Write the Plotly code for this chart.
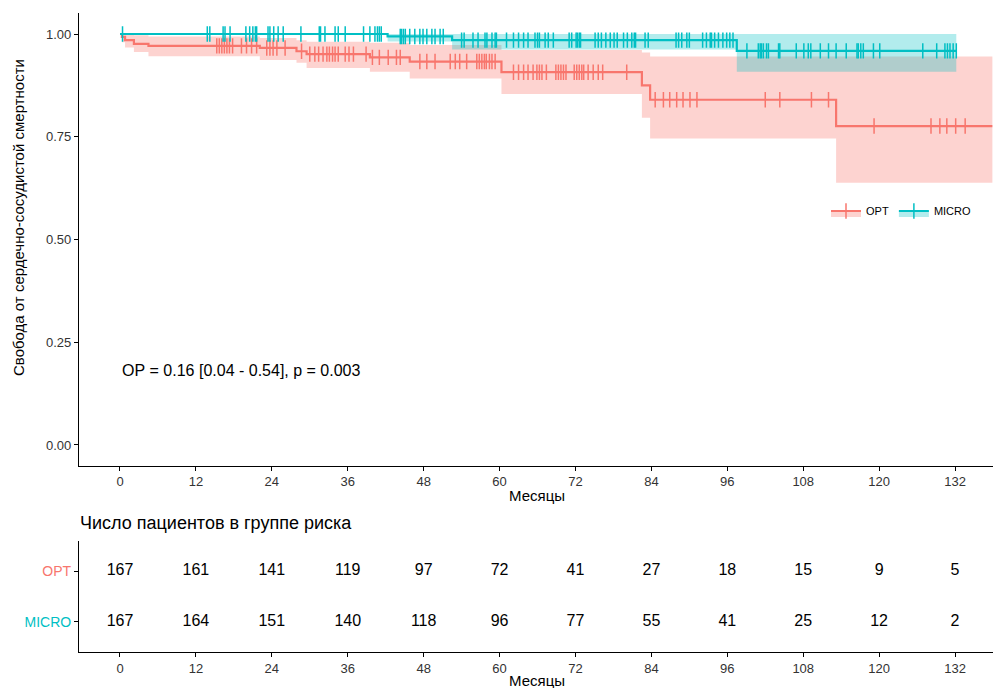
import numpy as np
import plotly.graph_objects as go

# ---------------- data ----------------
opt_time  = [0, 0.3, 0.8, 2.2, 4.5, 22.1, 27.9, 29.5, 39.5, 45.8, 60.3, 82.5, 83.8, 113.2]
opt_surv  = [1.0, 0.993, 0.985, 0.976, 0.971, 0.966, 0.958, 0.951, 0.943, 0.933, 0.907, 0.875, 0.840, 0.776]
opt_lower = [1.0, 0.980, 0.967, 0.956, 0.946, 0.937, 0.930, 0.917, 0.908, 0.892, 0.854, 0.796, 0.746, 0.638]
opt_upper = [1.0, 1.0, 1.0, 0.997, 0.994, 0.990, 0.985, 0.981, 0.979, 0.973, 0.961, 0.955, 0.945, 0.945]
opt_end = 137.9

micro_time  = [0, 42.3, 52.5, 97.5]
micro_surv  = [1.0, 0.994, 0.985, 0.959]
micro_lower = [1.0, 0.982, 0.962, 0.908]
micro_upper = [1.0, 1.0, 1.0, 1.0]
micro_end = 132.2

opt_censor = [15.3, 15.7, 16.1, 16.5, 16.9, 17.3, 17.8, 19.2, 20.0, 20.8, 21.6, 23.2, 23.7,
              24.2, 24.8, 26.1, 28.7, 30.0, 30.8, 31.4, 32.1, 32.7, 33.1, 33.6, 34.0, 34.5,
              35.6, 36.2, 36.9, 38.9, 39.9, 41.0, 42.4, 43.7, 44.3, 47.4, 48.5, 49.8, 52.2,
              53.0, 53.7, 54.8, 56.4, 56.8, 57.2, 57.6, 57.9, 58.4, 58.8, 59.3, 62.2, 63.0,
              63.8, 64.5, 65.3, 65.9, 66.3, 66.7, 67.4, 68.9, 69.3, 69.7, 70.1, 70.5, 71.8,
              72.2, 72.6, 73.0, 73.3, 74.0, 74.8, 75.6, 76.3, 80.1, 84.6, 85.9, 86.9, 88.0,
              89.0, 90.1, 91.2, 102.0, 104.3, 109.3, 112.0, 119.2, 128.2, 129.6, 130.7,
              132.1, 133.6]
micro_censor = [0.4, 13.8, 14.2, 16.3, 16.6, 17.4, 19.9, 20.5, 21.0, 21.4, 21.6, 23.4, 23.7,
                24.3, 25.0, 25.8, 28.6, 31.5, 31.7, 32.4, 34.0, 34.5, 35.6, 38.5, 39.5, 40.3,
                40.7, 41.0, 41.3, 44.3, 44.5, 44.8, 45.1, 45.8, 46.6, 47.4, 47.9, 48.5, 49.3,
                49.8, 50.6, 51.1, 54.0, 54.4, 55.8, 56.6, 57.7, 58.0, 58.8, 59.3, 59.5, 61.1,
                62.2, 63.0, 63.8, 64.5, 65.6, 66.0, 66.3, 67.2, 67.7, 68.5, 71.0, 71.4, 72.1,
                72.3, 72.6, 72.8, 75.1, 75.6, 76.1, 76.8, 77.5, 78.1, 78.6, 79.6, 80.2, 80.9,
                81.3, 81.5, 83.0, 83.5, 87.9, 88.3, 88.8, 89.6, 90.0, 92.1, 92.7, 93.3, 93.5,
                94.0, 94.6, 95.3, 95.9, 96.4, 96.9, 99.1, 100.9, 101.2, 101.4, 101.7, 102.2,
                102.5, 104.1, 104.3, 106.9, 108.1, 108.8, 109.2, 110.7, 112.0, 113.2, 114.8,
                116.5, 116.7, 117.1, 117.5, 119.1, 120.1, 126.9, 129.1, 130.4, 130.8, 131.2,
                131.7, 132.2]

risk_times = [0, 12, 24, 36, 48, 60, 72, 84, 96, 108, 120, 132]
opt_risk   = [167, 161, 141, 119, 97, 72, 41, 27, 18, 15, 9, 5]
micro_risk = [167, 164, 151, 140, 118, 96, 77, 55, 41, 25, 12, 2]

groups = ["OPT", "MICRO"]
hr_text = "ОР = 0.16 [0.04 - 0.54], p = 0.003"

# ---------------- style ----------------
RED, TEAL = "#F8766D", "#00BFC4"
RED_F, TEAL_F = "rgba(248,118,109,0.32)", "rgba(0,191,196,0.30)"
FONT = "Liberation Sans, Arial, sans-serif"
W, H = 993, 688

def ext(times, vals, end):
    return list(times) + [end], list(vals) + [vals[-1]]

def step_at(times, vals, ts):
    idx = np.searchsorted(np.array(times), np.array(ts), side="right") - 1
    return [vals[i] for i in idx]

fig = go.Figure()

series = [
    ("OPT", opt_time, opt_surv, opt_lower, opt_upper, opt_end, opt_censor, RED, RED_F),
    ("MICRO", micro_time, micro_surv, micro_lower, micro_upper, micro_end, micro_censor, TEAL, TEAL_F),
]

# bands
for name, t, s, lo, up, end, cen, col, fcol in series:
    xu, yu = ext(t, up, end)
    xl, yl = ext(t, lo, end)
    fig.add_trace(go.Scatter(x=xu, y=yu, mode="lines", line=dict(width=0, shape="hv"),
                             showlegend=False, hoverinfo="skip", xaxis="x", yaxis="y"))
    fig.add_trace(go.Scatter(x=xl, y=yl, mode="lines", line=dict(width=0, shape="hv"),
                             fill="tonexty", fillcolor=fcol, showlegend=False,
                             hoverinfo="skip", xaxis="x", yaxis="y"))

# curves + censor marks
for name, t, s, lo, up, end, cen, col, fcol in series:
    xs, ys = ext(t, s, end)
    fig.add_trace(go.Scatter(x=xs, y=ys, mode="lines", line=dict(color=col, width=2.2, shape="hv"),
                             showlegend=False, hoverinfo="skip", xaxis="x", yaxis="y"))
    fig.add_trace(go.Scatter(x=cen, y=step_at(t, s, cen), mode="markers",
                             marker=dict(symbol="line-ns-open", size=11, color=col,
                                         line=dict(color=col, width=1.5)),
                             showlegend=False, hoverinfo="skip", xaxis="x", yaxis="y"))

# legend entries
for name, t, s, lo, up, end, cen, col, fcol in series:
    fig.add_trace(go.Scatter(x=[None], y=[None], name=name, mode="lines+markers",
                             fill="toself", fillcolor=fcol,
                             line=dict(color=col, width=2.2),
                             marker=dict(symbol="line-ns-open", size=11, color=col,
                                         line=dict(color=col, width=1.5)),
                             xaxis="x", yaxis="y"))

# risk table
fig.add_trace(go.Scatter(x=risk_times, y=[2] * len(risk_times), mode="text",
                         text=[str(v) for v in opt_risk], textfont=dict(size=16, color="black", family=FONT),
                         showlegend=False, hoverinfo="skip", xaxis="x2", yaxis="y2"))
fig.add_trace(go.Scatter(x=risk_times, y=[1] * len(risk_times), mode="text",
                         text=[str(v) for v in micro_risk], textfont=dict(size=16, color="black", family=FONT),
                         showlegend=False, hoverinfo="skip", xaxis="x2", yaxis="y2"))

xdom = [79 / W, 1.0]
xrange = [-6.48, 138.0]
axis_common = dict(showline=True, linecolor="black", linewidth=1.1, ticks="outside",
                   ticklen=4, tickcolor="black", tickwidth=1.1, showgrid=False, zeroline=False,
                   tickfont=dict(size=13, color="#333333", family=FONT), fixedrange=True)

fig.update_layout(
    width=W, height=H, margin=dict(l=0, r=0, t=0, b=0),
    paper_bgcolor="white", plot_bgcolor="white",
    font=dict(family=FONT, color="black"),
    xaxis=dict(domain=xdom, range=xrange, tickvals=risk_times, anchor="y", **axis_common),
    yaxis=dict(domain=[(H - 465.5) / H, (H - 13.45) / H], range=[-0.05, 1.05],
               tickvals=[0, 0.25, 0.5, 0.75, 1.0],
               ticktext=["0.00", "0.25", "0.50", "0.75", "1.00"], anchor="x", **axis_common),
    xaxis2=dict(domain=xdom, range=xrange, tickvals=risk_times, anchor="y2", **axis_common),
    yaxis2=dict(domain=[(H - 652.3) / H, (H - 540.7) / H], range=[0.4, 2.6],
                tickvals=[2, 1],
                ticktext=['<span style="color:%s">%s</span>' % (RED, groups[0]),
                          '<span style="color:%s">%s</span>' % (TEAL, groups[1])],
                anchor="x2", **{**axis_common, "tickfont": dict(size=14, family=FONT)}),
    legend=dict(orientation="h", x=826 / W, y=(H - 211) / H, xanchor="left", yanchor="middle",
                font=dict(size=11, color="black", family=FONT), bgcolor="rgba(0,0,0,0)",
                itemwidth=30, tracegroupgap=0, traceorder="normal"),
    annotations=[
        dict(text="Свобода от сердечно-сосудистой смертности", textangle=-90,
             x=18 / W, y=(H - 218) / H, xref="paper", yref="paper", showarrow=False,
             font=dict(size=15, color="black", family=FONT), xanchor="center", yanchor="middle"),
        dict(text="Месяцы", x=537 / W, y=(H - 495) / H, xref="paper", yref="paper",
             showarrow=False, font=dict(size=15, color="black", family=FONT),
             xanchor="center", yanchor="middle"),
        dict(text="Месяцы", x=537 / W, y=(H - 680) / H, xref="paper", yref="paper",
             showarrow=False, font=dict(size=15, color="black", family=FONT),
             xanchor="center", yanchor="middle"),
        dict(text="Число пациентов в группе риска", x=78 / W, y=(H - 523) / H, xref="paper",
             yref="paper", showarrow=False, font=dict(size=18, color="black", family=FONT),
             xanchor="left", yanchor="middle"),
        dict(text=hr_text, x=0.0, y=0.18, xref="x", yref="y", showarrow=False,
             font=dict(size=16, color="black", family=FONT), xanchor="left", yanchor="middle"),
    ],
)

fig.write_html("out.html")
